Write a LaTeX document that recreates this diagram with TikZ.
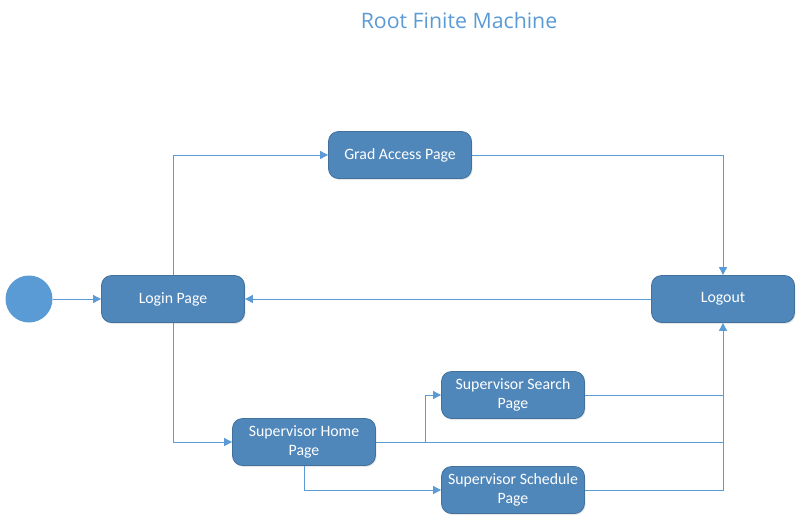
\documentclass[tikz,border=0pt]{standalone}
\usepackage{fontspec}
\setmainfont{Carlito}
\newfontfamily\titlefont{Open Sans}
\usetikzlibrary{arrows.meta,shadows}
\definecolor{boxfill}{RGB}{80,135,187}
\definecolor{boxedge}{RGB}{65,113,156}
\definecolor{linec}{RGB}{91,155,213}
\tikzset{
  state/.style={draw=boxedge, fill=boxfill, rounded corners=10pt, minimum width=143pt, minimum height=47pt,
    text=white, font=\fontsize{15.8}{19}\selectfont, align=center, line width=0.8pt, inner sep=2pt,
    drop shadow={shadow xshift=1pt, shadow yshift=-1.5pt, opacity=0.18}},
  conn/.style={draw=linec, line width=0.9pt, -{Triangle[length=8pt,width=8pt]}},
  plain/.style={draw=linec, line width=0.9pt}
}
\begin{document}
\begin{tikzpicture}[x=1pt,y=-1pt]
\useasboundingbox (0,0) rectangle (801,523);
\node[text=linec, font=\titlefont\fontsize{21.3}{25}\selectfont] (title) at (459,21) {Root Finite Machine};
\node[circle, fill=linec, minimum size=47pt, inner sep=0pt] (start) at (29,299) {};
\node[state] (login) at (173,299) {Login Page};
\node[state] (grad) at (400,155) {Grad Access Page};
\node[state] (logout) at (723,299) {Logout};
\node[state] (home) at (304,442) {Supervisor Home\\Page};
\node[state] (search) at (513,395) {Supervisor Search\\Page};
\node[state] (sched) at (513,490) {Supervisor Schedule\\Page};
\coordinate (j1) at (723,442);
\coordinate (br) at (425,442);
\draw[conn] (start) -- (login);
\draw[conn] (login.north) |- (grad.west);
\draw[conn] (grad.east) -| (logout.north);
\draw[conn] (logout.west) -- (login.east);
\draw[conn] (login.south) |- (home.west);
\draw[plain] (home.east) -- (j1);
\draw[conn] (j1) -- (logout.south);
\draw[conn] (br) |- (search.west);
\draw[conn] (home.south) |- (sched.west);
\draw[plain] (search.east) -| (j1);
\draw[plain] (sched.east) -| (j1);
\end{tikzpicture}
\end{document}
